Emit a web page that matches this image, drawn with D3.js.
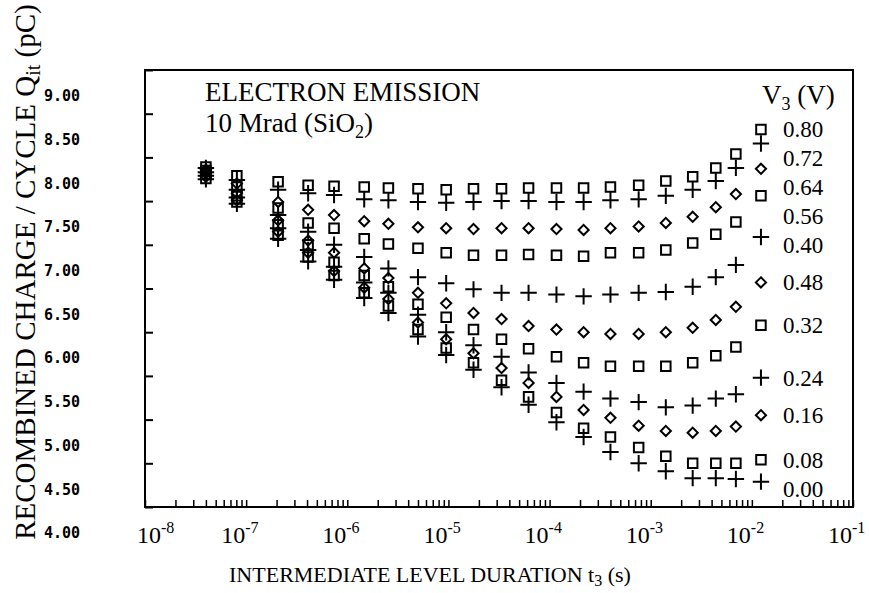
<!DOCTYPE html>
<html>
<head>
<meta charset="utf-8">
<script src="https://cdn.jsdelivr.net/npm/d3@7"></script>
<style>
    body { margin: 0; background: #fff; }
    svg text { font-family: "Liberation Serif", "Times New Roman", serif; fill: #000; }
</style>
</head>
<body>
<div id="chart"></div>
<script>

// intermediate level duration t3 (s) of each measured column
const durations = [4.0e-8, 8.1e-8, 2.07e-7, 4.1e-7, 7.4e-7, 1.47e-6, 2.55e-6, 5.0e-6, 9.5e-6, 1.77e-5, 3.35e-5,
    6.2e-5, 1.17e-4, 2.17e-4, 4.0e-4, 7.6e-4, 1.41e-3, 2.6e-3, 4.4e-3, 6.95e-3, 1.23e-2];

// recombined charge per cycle Qit (pC), one array per V3 step
const q080 = [7.89, 7.79, 7.72, 7.68, 7.67, 7.66, 7.65, 7.64, 7.63, 7.64, 7.64, 7.65, 7.65, 7.65, 7.66, 7.68, 7.73, 7.78, 7.88, 8.04, 8.32];
const q072 = [7.88, 7.74, 7.63, 7.59, 7.57, 7.52, 7.51, 7.49, 7.48, 7.49, 7.50, 7.50, 7.49, 7.49, 7.51, 7.52, 7.56, 7.63, 7.73, 7.88, 8.16];
const q064 = [7.86, 7.70, 7.49, 7.40, 7.34, 7.27, 7.24, 7.20, 7.19, 7.18, 7.19, 7.19, 7.18, 7.17, 7.19, 7.21, 7.25, 7.32, 7.43, 7.58, 7.87];
const q056 = [7.85, 7.66, 7.42, 7.25, 7.19, 7.07, 7.01, 6.96, 6.91, 6.88, 6.88, 6.89, 6.88, 6.87, 6.91, 6.91, 6.94, 7.02, 7.12, 7.26, 7.56];
const q040 = [7.83, 7.63, 7.34, 7.15, 7.00, 6.86, 6.73, 6.63, 6.56, 6.49, 6.45, 6.45, 6.43, 6.41, 6.43, 6.45, 6.46, 6.52, 6.63, 6.77, 7.09];
const q048 = [7.82, 7.59, 7.28, 7.05, 6.91, 6.73, 6.62, 6.45, 6.33, 6.22, 6.15, 6.07, 6.03, 6.00, 5.98, 5.98, 6.00, 6.05, 6.14, 6.29, 6.57];
const q032 = [7.81, 7.56, 7.23, 7.00, 6.80, 6.65, 6.52, 6.32, 6.17, 6.03, 5.92, 5.81, 5.72, 5.65, 5.61, 5.61, 5.61, 5.65, 5.73, 5.83, 6.08];
const q024 = [7.79, 7.54, 7.19, 6.94, 6.75, 6.57, 6.45, 6.20, 6.00, 5.85, 5.72, 5.54, 5.42, 5.32, 5.24, 5.20, 5.14, 5.16, 5.24, 5.29, 5.48];
const q016 = [7.78, 7.51, 7.15, 6.91, 6.70, 6.51, 6.38, 6.11, 5.92, 5.76, 5.59, 5.42, 5.26, 5.11, 5.02, 4.93, 4.87, 4.85, 4.87, 4.92, 5.05];
const q008 = [7.76, 7.49, 7.11, 6.86, 6.65, 6.45, 6.30, 6.03, 5.82, 5.65, 5.45, 5.26, 5.08, 4.90, 4.80, 4.68, 4.58, 4.50, 4.50, 4.50, 4.54];
const q000 = [7.75, 7.47, 7.07, 6.81, 6.60, 6.39, 6.22, 5.95, 5.74, 5.57, 5.37, 5.17, 4.97, 4.80, 4.63, 4.50, 4.41, 4.33, 4.33, 4.32, 4.29];

// legend labels, in the order the curves are stacked top to bottom
const v3Labels = ["0.80", "0.72", "0.64", "0.56", "0.40", "0.48", "0.32", "0.24", "0.16", "0.08", "0.00"];
const seriesValues = [q080, q072, q064, q056, q040, q048, q032, q024, q016, q008, q000];

const yTicks = [4.0, 4.5, 5.0, 5.5, 6.0, 6.5, 7.0, 7.5, 8.0, 8.5, 9.0];
const xDecades = [1e-8, 1e-7, 1e-6, 1e-5, 1e-4, 1e-3, 1e-2, 1e-1];


class ChargeChart {
    constructor(parentElement) {
        this.parentElement = parentElement
        this.initVis()
    }

    initVis() {
        let vis = this;

        vis.width = 869;
        vis.height = 593;
        vis.box = {left: 145, right: 853, top: 70, bottom: 507};

        vis.svg = d3.select("#" + vis.parentElement).append("svg")
            .attr("width", vis.width)
            .attr("height", vis.height);

        vis.x = d3.scaleLog()
            .domain([1e-8, 1e-1])
            .range([vis.box.left, vis.box.right]);

        vis.y = d3.scaleLinear()
            .domain([4, 9])
            .range([vis.box.bottom, vis.box.top]);

        // marker cycle: square, plus, diamond
        vis.symbols = [
            d3.symbol().type(d3.symbolSquare2).size(115),
            d3.symbol().type(d3.symbolPlus).size(90),
            d3.symbol().type(d3.symbolDiamond2).size(66)
        ];

        vis.wrangleData()
    }

    wrangleData() {
        let vis = this;

        vis.points = [];
        seriesValues.forEach(function(values, s) {
            values.forEach(function(v, i) {
                vis.points.push({series: s, t: durations[i], q: v});
            });
        });

        // legend labels sit beside the last column, pushed apart so they don't collide
        let gap = 29;
        let prev = -Infinity;
        vis.labels = seriesValues.map(function(values, s) {
            let yy = Math.max(vis.y(values[values.length - 1]), prev + gap);
            prev = yy;
            return {label: v3Labels[s], y: yy};
        });

        vis.updateVis()
    }

    updateVis() {
        let vis = this;

        // x axis: log ticks, drawn inward
        let minor = [];
        xDecades.slice(0, -1).forEach(function(d) {
            for (let k = 1; k <= 9; k++) minor.push(d * k);
        });
        minor.push(1e-1);

        let xAxis = d3.axisBottom(vis.x)
            .tickValues(minor)
            .tickSizeInner(-7)
            .tickSizeOuter(0)
            .tickFormat("");

        vis.svg.append("g")
            .attr("transform", "translate(0," + vis.box.bottom + ")")
            .call(xAxis)
            .call(g => g.select(".domain").remove())
            .selectAll("line").attr("stroke-width", 1.5);

        vis.svg.selectAll(".xlabel")
            .data(xDecades)
            .enter()
            .append("text")
            .attr("class", "xlabel")
            .attr("x", (d, i) => vis.x(d) + (i === 0 ? -8 : -25))
            .attr("y", 543)
            .style("font-size", "24px")
            .each(function(d) {
                let t = d3.select(this);
                t.append("tspan").text("10");
                t.append("tspan")
                    .attr("dy", -10)
                    .style("font-size", "16px")
                    .text(String(Math.round(Math.log10(d))));
            });

        // y axis, tick labels sit a little below their ticks as in the print
        let yAxis = d3.axisLeft(vis.y)
            .tickValues(yTicks)
            .tickSizeInner(-8)
            .tickSizeOuter(0)
            .tickPadding(65)
            .tickFormat(d3.format(".2f"));

        vis.svg.append("g")
            .attr("transform", "translate(" + vis.box.left + ",0)")
            .call(yAxis)
            .call(g => g.select(".domain").remove())
            .call(g => g.selectAll("line").attr("stroke-width", 2))
            .selectAll("text")
            .attr("y", 26)
            .style("font-family", "'DejaVu Sans Mono', monospace")
            .style("font-weight", "bold")
            .style("font-size", "15px");

        // frame
        vis.svg.append("rect")
            .attr("x", vis.box.left)
            .attr("y", vis.box.top)
            .attr("width", vis.box.right - vis.box.left)
            .attr("height", vis.box.bottom - vis.box.top)
            .attr("fill", "none")
            .attr("stroke", "#000")
            .attr("stroke-width", 2);

        // markers
        vis.svg.append("g")
            .selectAll("path")
            .data(vis.points)
            .enter()
            .append("path")
            .attr("transform", d => "translate(" + vis.x(d.t) + "," + vis.y(d.q) + ")")
            .attr("d", d => vis.symbols[d.series % 3]())
            .attr("fill", "none")
            .attr("stroke", "#000")
            .attr("stroke-width", 2);

        // V3 labels
        vis.svg.selectAll(".vlabel")
            .data(vis.labels)
            .enter()
            .append("text")
            .attr("class", "vlabel")
            .attr("x", 783)
            .attr("y", d => d.y)
            .attr("dy", "0.35em")
            .style("font-size", "23px")
            .text(d => d.label);

        let v3 = vis.svg.append("text")
            .attr("x", 762)
            .attr("y", 104)
            .style("font-size", "27px");
        v3.append("tspan").text("V");
        v3.append("tspan").attr("dy", 6).style("font-size", "18px").text("3");
        v3.append("tspan").attr("dy", -6).text(" (V)");

        // annotation
        vis.svg.append("text")
            .attr("x", 205)
            .attr("y", 101)
            .style("font-size", "27px")
            .text("ELECTRON EMISSION");

        let dose = vis.svg.append("text")
            .attr("x", 205)
            .attr("y", 132)
            .style("font-size", "27px");
        dose.append("tspan").text("10 Mrad (SiO");
        dose.append("tspan").attr("dy", 6).style("font-size", "18px").text("2");
        dose.append("tspan").attr("dy", -6).text(")");

        // axis titles
        let xt = vis.svg.append("text")
            .attr("x", 430)
            .attr("y", 582)
            .attr("text-anchor", "middle")
            .style("font-size", "22px");
        xt.append("tspan").text("INTERMEDIATE LEVEL DURATION t");
        xt.append("tspan").attr("dy", 4).style("font-size", "16px").text("3");
        xt.append("tspan").attr("dy", -4).text(" (s)");

        let yt = vis.svg.append("text")
            .attr("transform", "translate(35,272) rotate(-90)")
            .attr("text-anchor", "middle")
            .style("font-size", "29px");
        yt.append("tspan").text("RECOMBINED CHARGE / CYCLE Q");
        yt.append("tspan").attr("dy", 5).style("font-size", "20px").text("it");
        yt.append("tspan").attr("dy", -5).text(" (pC)");
    }
}

new ChargeChart("chart");
</script>
</body>
</html>
